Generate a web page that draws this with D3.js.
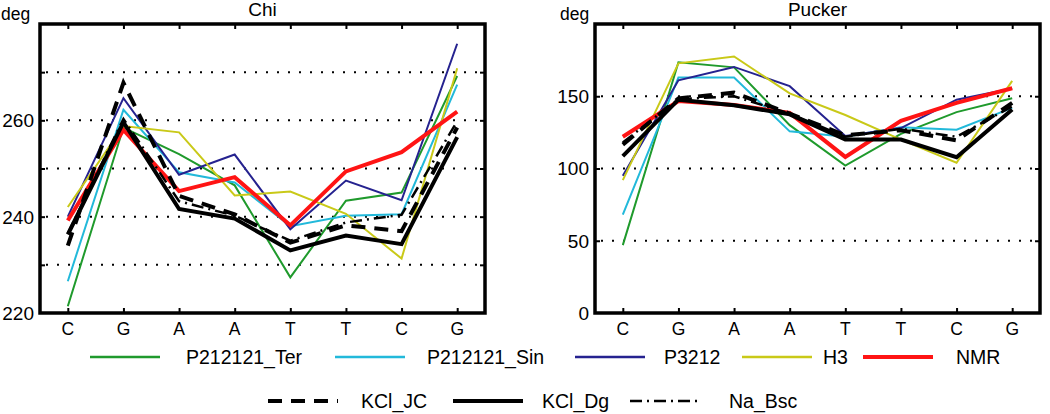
<!DOCTYPE html>
<html><head><meta charset="utf-8">
<script src="https://cdn.jsdelivr.net/npm/d3@7"></script>
<style>
html,body{margin:0;padding:0;background:#fff;}
svg{display:block;}
text{font-family:"Liberation Sans",Arial,Helvetica,sans-serif;fill:#000;}
</style></head>
<body>
<svg id="chart" width="1050" height="414"></svg>
<script>
// ---------- data ----------
const categories = ["C","G","A","A","T","T","C","G"];
const seriesNames = ["P212121_Ter","P212121_Sin","P3212","H3","NMR","KCl_JC","KCl_Dg","Na_Bsc"];

const chiTer  = [221.4, 258.5, 253.0, 246.5, 227.4, 243.3, 245.0, 269.2];
const chiSin  = [226.6, 262.2, 249.2, 247.1, 238.0, 240.2, 240.5, 267.4];
const chiP3   = [240.0, 264.6, 248.7, 252.9, 237.4, 247.5, 243.4, 275.9];
const chiH3   = [242.0, 258.8, 257.5, 244.4, 245.2, 240.6, 231.3, 270.8];
const chiNMR  = [239.2, 258.0, 245.3, 248.2, 238.2, 249.4, 253.4, 261.8];
const chiJC   = [234.0, 267.8, 244.3, 240.5, 234.6, 238.2, 237.0, 258.5];
const chiDg   = [236.3, 259.6, 241.6, 239.6, 233.0, 236.1, 234.3, 256.5];
const chiBsc  = [236.5, 260.3, 243.2, 240.2, 235.0, 238.8, 240.4, 259.8];

const puckTer = [47.0, 173.5, 170.0, 130.0, 102.0, 124.0, 139.0, 148.6];
const puckSin = [68.0, 163.0, 163.0, 125.7, 122.0, 128.5, 126.8, 142.0];
const puckP3  = [95.0, 161.0, 170.3, 157.0, 122.5, 128.0, 147.6, 155.3];
const puckH3  = [92.0, 172.8, 177.5, 152.0, 137.0, 120.0, 104.0, 160.6];
const puckNMR = [122.0, 146.7, 144.0, 138.5, 108.0, 133.0, 145.4, 155.5];
const puckJC  = [116.5, 148.5, 152.5, 138.0, 123.0, 126.5, 119.5, 145.4];
const puckDg  = [108.5, 147.6, 143.8, 137.5, 120.0, 120.0, 107.8, 140.8];
const puckBsc = [118.0, 148.0, 150.0, 138.0, 122.0, 127.5, 122.0, 143.0];

const chiTicks = [220, 230, 240, 250, 260, 270, 280];
const chiLabels = [220, 240, 260];
const puckTicks = [0, 50, 100, 150, 200];
const puckLabels = [0, 50, 100, 150];

// ---------- styles ----------
const styles = {
  "P212121_Ter": {color:"#1f9a2c", width:2,   dash:null},
  "P212121_Sin": {color:"#22b9da", width:2,   dash:null},
  "P3212":       {color:"#25228f", width:2,   dash:null},
  "H3":          {color:"#c9c918", width:2,   dash:null},
  "NMR":         {color:"#ff1414", width:4,   dash:null},
  "KCl_JC":      {color:"#000",    width:4,   dash:"14,9"},
  "KCl_Dg":      {color:"#000",    width:4,   dash:null},
  "Na_Bsc":      {color:"#000",    width:2.5, dash:"12,5,2,5"}
};

const svg = d3.select("#chart");

function panel(opt){
  const {x0,x1,y0,y1,domain,ticks,labels,title,series,degX,labelRight} = opt;
  const g = svg.append("g");
  const x = d3.scaleLinear().domain([-0.5, categories.length-0.5]).range([x0,x1]);
  const y = d3.scaleLinear().domain(domain).range([y1,y0]);

  // grid (dotted)
  const inner = ticks.filter(t => t>domain[0] && t<domain[1]);
  g.selectAll(".grid").data(inner).enter().append("line")
    .attr("x1", x0+6).attr("x2", x1-4)
    .attr("y1", d=>y(d)).attr("y2", d=>y(d))
    .attr("stroke","#000").attr("stroke-width",2)
    .attr("stroke-dasharray","2,9");

  // series lines
  const line = d3.line().x((d,i)=>x(i)).y(d=>y(d));
  seriesNames.forEach((name,k)=>{
    const s = styles[name];
    g.append("path").datum(series[k])
      .attr("d", line).attr("fill","none")
      .attr("stroke", s.color).attr("stroke-width", s.width)
      .attr("stroke-dasharray", s.dash)
      .attr("stroke-linejoin","miter");
  });

  // tick marks inward
  const ax = d3.axisBottom(x).tickValues(d3.range(categories.length)).tickSize(-5).tickFormat("");
  g.append("g").attr("transform",`translate(0,${y1})`).call(ax)
    .call(s=>s.select(".domain").remove()).selectAll("line").attr("stroke-width",2);
  const axT = d3.axisTop(x).tickValues(d3.range(categories.length)).tickSize(-5).tickFormat("");
  g.append("g").attr("transform",`translate(0,${y0})`).call(axT)
    .call(s=>s.select(".domain").remove()).selectAll("line").attr("stroke-width",2);
  const ayR = d3.axisRight(y).tickValues(inner).tickSize(-5).tickFormat("");
  g.append("g").attr("transform",`translate(${x1},0)`).call(ayR)
    .call(s=>s.select(".domain").remove()).selectAll("line").attr("stroke-width",2);
  const ayL = d3.axisLeft(y).tickValues(inner).tickSize(-5).tickFormat("");
  g.append("g").attr("transform",`translate(${x0},0)`).call(ayL)
    .call(s=>s.select(".domain").remove()).selectAll("line").attr("stroke-width",2);

  // frame
  g.append("rect").attr("x",x0).attr("y",y0).attr("width",x1-x0).attr("height",y1-y0)
    .attr("fill","none").attr("stroke","#000").attr("stroke-width",3.5);

  // y labels
  g.selectAll(".yl").data(labels).enter().append("text")
    .attr("x", labelRight).attr("y", d=>y(d)).attr("dy","0.36em")
    .attr("text-anchor","end").attr("font-size",19).text(d=>d);

  // x labels
  g.selectAll(".xl").data(categories).enter().append("text")
    .attr("x",(d,i)=>x(i)).attr("y", y1+22)
    .attr("text-anchor","middle").attr("font-size",17.5).text(d=>d);

  // title & unit
  g.append("text").attr("x",(x0+x1)/2).attr("y",16).attr("text-anchor","middle")
    .attr("font-size",19).text(title);
  g.append("text").attr("x",degX).attr("y",20).attr("font-size",17.5).text("deg");
}

panel({x0:40,x1:485,y0:24,y1:313,domain:[220,280],ticks:chiTicks,labels:chiLabels,
  title:"Chi",series:[chiTer,chiSin,chiP3,chiH3,chiNMR,chiJC,chiDg,chiBsc],degX:1,labelRight:34});
panel({x0:595,x1:1040,y0:24,y1:313,domain:[0,200],ticks:puckTicks,labels:puckLabels,
  title:"Pucker",series:[puckTer,puckSin,puckP3,puckH3,puckNMR,puckJC,puckDg,puckBsc],degX:560,labelRight:589});

// ---------- legend ----------
const legendLayout = [
  {lx:90,  tx:186, y:357},
  {lx:335, tx:427, y:357},
  {lx:575, tx:664, y:357},
  {lx:742, tx:823, y:357},
  {lx:863, tx:956, y:357},
  {lx:268, tx:361, y:401},
  {lx:453, tx:542, y:401},
  {lx:630, tx:729, y:401}
];
const lg = svg.append("g");
seriesNames.forEach((name,k)=>{
  const s = styles[name], p = legendLayout[k];
  lg.append("line").attr("x1",p.lx).attr("x2",p.lx+70).attr("y1",p.y).attr("y2",p.y)
    .attr("stroke",s.color).attr("stroke-width",s.width===2?2.5:s.width)
    .attr("stroke-dasharray", s.dash);
  lg.append("text").attr("x",p.tx).attr("y",p.y).attr("dy","0.36em")
    .attr("font-size",19.5).text(name);
});
</script>
</body></html>
